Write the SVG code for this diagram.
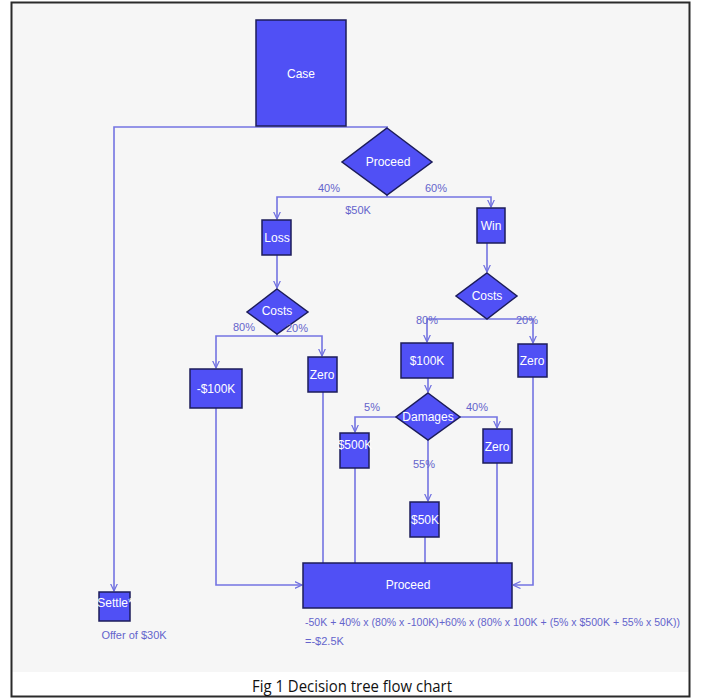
<svg xmlns="http://www.w3.org/2000/svg" width="701" height="700" viewBox="0 0 701 700">
<defs>
<marker id="arr" viewBox="0 0 8 8" refX="7.5" refY="4" markerWidth="8" markerHeight="8" markerUnits="userSpaceOnUse" orient="auto">
<path d="M0,0.5 L7.5,4 L0,7.5" fill="none" stroke="#6f6fe0" stroke-width="1.2"/>
</marker>
<style>
.box{fill:#5050f5;stroke:#1c1c5a;stroke-width:1.5}
.c{fill:none;stroke:#7474e2;stroke-width:1.6}
.a{marker-end:url(#arr)}
.t{font-family:"Liberation Sans",Arial,sans-serif;font-size:12px;fill:#ffffff;text-anchor:middle;dominant-baseline:central}
.l{font-family:"Liberation Sans",Arial,sans-serif;font-size:11px;fill:#6464cc;text-anchor:middle;dominant-baseline:central}
</style>
</defs>
<rect x="0" y="0" width="701" height="700" fill="#ffffff"/>
<rect x="12" y="3" width="677" height="669" fill="#f6f6f6"/>
<rect x="11.5" y="2.5" width="678" height="694" fill="none" stroke="#2a2a2a" stroke-width="2"/>

<g id="connectors">
<path class="c a" d="M388,127 H114 V591"/>
<path class="c" d="M387,195 V197"/>
<path class="c a" d="M387,197 H277 V219"/>
<path class="c a" d="M387,197 H491 V207"/>
<path class="c a" d="M277,255 V288"/>
<path class="c" d="M277,334 V336"/>
<path class="c a" d="M277,336 H216 V368"/>
<path class="c a" d="M277,336 H322 V356"/>
<path class="c a" d="M487,243 V272"/>
<path class="c a" d="M487,319 H427 V342"/>
<path class="c a" d="M487,319 H533 V343"/>
<path class="c a" d="M428,378 V392"/>
<path class="c a" d="M396,417 H355 V432"/>
<path class="c a" d="M460,417 H497 V428"/>
<path class="c a" d="M428,440 V501"/>
<path class="c a" d="M216,408 V585 H302"/>
<path class="c" d="M323,392 V563"/>
<path class="c" d="M355,468 V563"/>
<path class="c" d="M425,537 V563"/>
<path class="c" d="M497,463 V563"/>
<path class="c a" d="M533,377 V585 H513"/>
</g>

<g id="case"><rect class="box" x="256" y="20" width="90" height="106"/><text class="t" x="301" y="74">Case</text></g>
<g id="proceed-decision"><polygon class="box" points="387,128 432,162 387,195 342,162"/><text class="t" x="388" y="162">Proceed</text></g>
<g id="loss"><rect class="box" x="262" y="220" width="29" height="35"/><text class="t" x="277" y="238">Loss</text></g>
<g id="win"><rect class="box" x="477" y="208" width="28" height="35"/><text class="t" x="491" y="226">Win</text></g>
<g id="costs-left"><polygon class="box" points="277,289 308,312 277,334 247,312"/><text class="t" x="277" y="311">Costs</text></g>
<g id="costs-right"><polygon class="box" points="487,273 517,296 487,319 456,296"/><text class="t" x="487" y="296">Costs</text></g>
<g id="minus100k"><rect class="box" x="190" y="369" width="52" height="39"/><text class="t" x="216" y="389">-$100K</text></g>
<g id="zero-left"><rect class="box" x="308" y="357" width="29" height="35"/><text class="t" x="322" y="375">Zero</text></g>
<g id="plus100k"><rect class="box" x="401" y="343" width="52" height="35"/><text class="t" x="427" y="361">$100K</text></g>
<g id="zero-right"><rect class="box" x="518" y="344" width="29" height="33"/><text class="t" x="532" y="361">Zero</text></g>
<g id="damages"><polygon class="box" points="428,393 460,417 428,440 396,417"/><text class="t" x="428" y="417">Damages</text></g>
<g id="d500k"><rect class="box" x="340" y="433" width="29" height="35"/><text class="t" x="355" y="445">$500K</text></g>
<g id="zero-damages"><rect class="box" x="483" y="429" width="29" height="34"/><text class="t" x="497" y="447">Zero</text></g>
<g id="d50k"><rect class="box" x="410" y="502" width="29" height="35"/><text class="t" x="425" y="520">$50K</text></g>
<g id="proceed-result"><rect class="box" x="303" y="563" width="209" height="45"/><text class="t" x="408" y="585">Proceed</text></g>
<g id="settle"><rect class="box" x="99" y="592" width="31" height="29"/><text class="t" x="115" y="603">Settle*</text></g>

<g id="labels">
<text class="l" x="329" y="188">40%</text>
<text class="l" x="436" y="188">60%</text>
<text class="l" x="358" y="210">$50K</text>
<text class="l" x="244" y="327">80%</text>
<text class="l" x="297" y="328">20%</text>
<text class="l" x="427" y="320">80%</text>
<text class="l" x="527" y="320">20%</text>
<text class="l" x="372" y="407">5%</text>
<text class="l" x="477" y="407">40%</text>
<text class="l" x="424" y="464">55%</text>
<text class="l" x="134" y="635">Offer of $30K</text>
<text class="l" x="305" y="622" style="text-anchor:start" textLength="375" lengthAdjust="spacingAndGlyphs">-50K + 40% x (80% x -100K)+60% x (80% x 100K + (5% x $500K + 55% x 50K))</text>
<text class="l" x="305" y="641" style="text-anchor:start">=-$2.5K</text>
</g>
<text x="352" y="692" font-family="'Open Sans','Liberation Sans',sans-serif" font-size="17" fill="#111" text-anchor="middle" textLength="200" lengthAdjust="spacingAndGlyphs">Fig 1 Decision tree flow chart</text>
</svg>
